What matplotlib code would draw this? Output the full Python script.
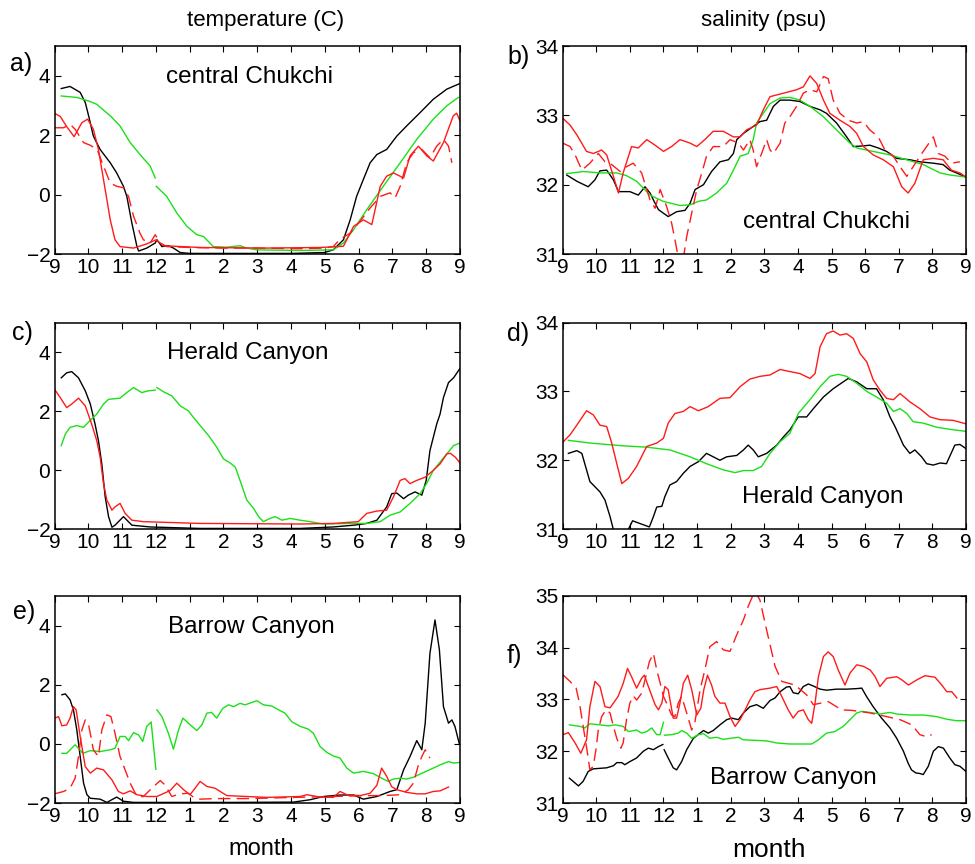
import matplotlib
matplotlib.use("Agg")
import matplotlib.pyplot as plt
import numpy as np

'''
Seasonal cycles of temperature and salinity at three Chukchi Sea sites
'''

plt.rcParams['font.family'] = ['Liberation Sans', 'DejaVu Sans']

nan = np.nan
MONTHS = ['9', '10', '11', '12', '1', '2', '3', '4', '5', '6', '7', '8', '9']

# x in months since 1 Sept
# ---- a) temperature, central Chukchi
a_k_x = [0.2, 0.46, 0.76, 0.91, 1.01, 1.15, 1.35, 1.65, 1.84, 2.04, 2.14, 2.29, 2.44, 2.49, 2.73, 2.98, 3.03, 3.18, 3.37, 3.52, 3.72, 4.01, 5.0, 6.0, 7.0, 7.99, 8.25, 8.55, 8.75, 8.94, 9.14, 9.34, 9.54, 9.83, 10.13, 10.42, 10.82, 11.21, 11.61, 12.0]
a_k_y = [3.57, 3.64, 3.44, 3.1, 2.65, 1.97, 1.52, 1.07, 0.73, 0.28, -0.06, -0.96, -1.75, -1.9, -1.8, -1.63, -1.52, -1.75, -1.72, -1.8, -1.95, -1.98, -1.98, -1.98, -1.98, -1.95, -1.86, -1.52, -0.85, -0.06, 0.51, 1.07, 1.35, 1.52, 1.97, 2.31, 2.76, 3.21, 3.55, 3.74]
a_g_x = [0.2, 0.66, 1.01, 1.25, 1.65, 1.94, 2.24, 2.53, 2.83, 2.98, nan, 3.01, 3.32, 3.62, 3.92, 4.21, 4.41, 4.7, 5.1, 5.49, 5.69, 5.99, 7.27, 8.25, 8.55, 8.85, 9.24, 9.73, 10.23, 10.72, 11.21, 11.61, 11.95]
a_g_y = [3.32, 3.27, 3.15, 3.04, 2.65, 2.31, 1.75, 1.35, 0.96, 0.56, nan, 0.28, -0.06, -0.62, -1.07, -1.35, -1.41, -1.75, -1.77, -1.72, -1.8, -1.86, -1.88, -1.86, -1.63, -1.18, -0.51, 0.28, 1.07, 1.86, 2.54, 2.99, 3.27]
a_r_x = [0, 0.17, 0.36, 0.58, 0.81, 0.98, 1.15, 1.3, 1.45, 1.65, 1.79, 1.94, 2.34, 2.73, 3.01, 3.22, 4.31, 6.28, 7.86, 8.55, 8.85, 9.14, 9.39, 9.64, 9.83, 10.03, 10.33, 10.52, 10.77, 11.02, 11.21, 11.51, 11.8, 11.9, 12.0]
a_r_y = [2.74, 2.63, 2.29, 1.95, 2.42, 2.54, 2.2, 1.52, 0.51, -0.85, -1.52, -1.75, -1.8, -1.66, -1.52, -1.72, -1.78, -1.8, -1.78, -1.74, -1.07, -0.85, -1.01, 0.28, 0.62, 0.73, 0.56, 1.3, 1.63, 1.3, 1.13, 1.75, 2.65, 2.74, 2.48]
a_rd_x = [0, 0.27, 0.46, 0.61, 0.86, 1.06, 1.26, 1.45, 1.65, 1.84, 2.04, 2.19, 2.34, 2.53, 2.63, 2.83, 2.98, 3.13, 3.32, 4.0, 5.0, 6.0, 7.27, 7.99, 8.25, 8.45, 8.75, 9.04, 9.34, 9.64, 9.93, 10.08, 10.23, 10.42, 10.62, 10.87, 11.11, 11.31, 11.51, 11.66, 11.76]
a_rd_y = [2.25, 2.25, 2.37, 2.2, 1.75, 1.66, 1.52, 0.96, 0.39, 0.28, 0.23, -0.06, -0.73, -1.3, -1.52, -1.63, -1.35, -1.63, -1.75, -1.78, -1.8, -1.8, -1.82, -1.8, -1.75, -1.5, -1.3, -0.9, -0.45, -0.06, 0.06, -0.11, 0.28, 1.07, 1.41, 1.52, 1.24, 1.63, 1.86, 1.63, 1.07]

# ---- b) salinity, central Chukchi
b_k_x = [0.12, 0.42, 0.76, 0.96, 1.11, 1.31, 1.51, 1.66, 2.0, 2.25, 2.45, 2.6, 2.7, 2.85, 3.14, 3.39, 3.64, 3.79, 3.94, 4.19, 4.43, 4.68, 4.93, 5.08, 5.18, 5.38, 5.67, 5.87, 6.07, 6.27, 6.47, 6.76, 7.06, 7.36, 7.66, 7.85, 8.15, 8.45, 8.65, 8.95, 9.14, 9.39, 9.64, 9.94, 10.33, 10.63, 11.03, 11.32, 11.52, 11.72, 12.0]
b_k_y = [32.14, 32.05, 31.97, 32.07, 32.2, 32.21, 32.07, 31.9, 31.9, 31.85, 31.97, 31.88, 31.78, 31.64, 31.54, 31.61, 31.63, 31.73, 31.93, 32.0, 32.19, 32.33, 32.36, 32.45, 32.65, 32.74, 32.84, 32.91, 32.93, 33.13, 33.22, 33.22, 33.2, 33.13, 33.08, 33.03, 32.89, 32.69, 32.55, 32.56, 32.57, 32.53, 32.48, 32.38, 32.36, 32.33, 32.31, 32.29, 32.21, 32.17, 32.11]
b_g_x = [0.12, 0.61, 1.11, 1.61, 1.9, 2.2, 2.6, 2.99, 3.49, 3.79, 4.04, 4.28, 4.58, 4.88, 5.08, 5.28, 5.52, 5.67, 5.77, 5.97, 6.17, 6.47, 6.76, 7.06, 7.36, 7.76, 8.15, 8.55, 8.75, 9.24, 9.74, 10.23, 10.73, 11.23, 11.52, 12.0]
b_g_y = [32.16, 32.19, 32.17, 32.17, 32.13, 32.05, 31.85, 31.76, 31.7, 31.71, 31.76, 31.78, 31.88, 32.02, 32.21, 32.41, 32.45, 32.65, 32.89, 33.03, 33.17, 33.25, 33.26, 33.22, 33.13, 32.98, 32.79, 32.6, 32.53, 32.48, 32.43, 32.36, 32.29, 32.17, 32.14, 32.11]
b_r_x = [0, 0.22, 0.42, 0.71, 0.91, 1.16, 1.31, 1.51, 1.66, 1.8, 2.05, 2.25, 2.5, 2.75, 3.0, 3.24, 3.49, 3.79, 3.99, 4.23, 4.48, 4.78, 5.08, 5.28, 5.47, 5.77, 5.97, 6.17, 6.57, 6.96, 7.16, 7.36, 7.56, 7.76, 7.95, 8.25, 8.55, 8.75, 8.95, 9.24, 9.54, 9.84, 10.09, 10.28, 10.48, 10.73, 11.03, 11.32, 11.57, 11.82, 12.0]
b_r_y = [32.96, 32.86, 32.72, 32.48, 32.45, 32.5, 32.43, 32.12, 31.88, 32.17, 32.55, 32.53, 32.65, 32.57, 32.48, 32.55, 32.65, 32.6, 32.55, 32.65, 32.77, 32.77, 32.69, 32.69, 32.79, 32.86, 33.08, 33.27, 33.32, 33.37, 33.41, 33.57, 33.46, 33.22, 33.03, 32.93, 32.84, 32.74, 32.55, 32.43, 32.36, 32.26, 31.97, 31.88, 32.02, 32.36, 32.38, 32.36, 32.21, 32.17, 32.11]
b_rd_x = [0, 0.22, 0.37, 0.57, 0.81, 1.06, 1.26, 1.46, 1.71, 1.9, 2.1, 2.35, 2.5, 2.6, 2.75, 2.85, 2.9, 3.09, 3.24, 3.34, 3.44, 3.55, 3.69, 3.84, 3.99, 4.14, 4.28, 4.48, 4.78, 4.98, 5.23, 5.38, 5.57, 5.67, 5.77, 5.92, 6.07, 6.17, 6.27, 6.47, 6.61, 6.76, 6.96, 7.16, 7.36, 7.56, 7.76, 7.9, 8.05, 8.25, 8.5, 8.75, 8.95, 9.14, 9.39, 9.59, 9.84, 10.04, 10.24, 10.43, 10.63, 10.83, 11.03, 11.18, 11.38, 11.57, 11.82]
b_rd_y = [32.6, 32.55, 32.43, 32.21, 32.31, 32.45, 32.33, 32.29, 32.19, 32.26, 32.31, 32.17, 31.93, 31.78, 31.66, 31.83, 31.93, 31.69, 31.45, 31.21, 30.95, 30.8, 31.25, 31.59, 31.93, 32.17, 32.41, 32.55, 32.55, 32.65, 32.6, 32.5, 32.65, 32.5, 32.26, 32.45, 32.65, 32.5, 32.45, 32.6, 32.89, 32.98, 33.13, 33.32, 33.37, 33.34, 33.56, 33.53, 33.22, 33.03, 32.93, 32.89, 32.91, 32.79, 32.69, 32.5, 32.41, 32.26, 32.12, 32.26, 32.41, 32.55, 32.69, 32.45, 32.41, 32.31, 32.33]

# ---- c) temperature, Herald Canyon
c_k_x = [0.2, 0.36, 0.51, 0.71, 0.91, 1.06, 1.2, 1.3, 1.4, 1.5, 1.6, 1.7, 1.79, 2.04, 2.29, 2.83, 4.31, 7.27, 8.25, 8.85, 9.24, 9.54, 9.83, 9.98, 10.13, 10.33, 10.47, 10.67, 10.87, 11.0, 11.11, 11.21, 11.31, 11.41, 11.51, 11.66, 11.81, 12.0]
c_k_y = [3.13, 3.3, 3.34, 3.13, 2.69, 2.24, 1.56, 1.0, 0.21, -0.91, -1.58, -1.94, -1.87, -1.58, -1.87, -1.93, -1.98, -1.98, -1.93, -1.87, -1.81, -1.7, -1.25, -0.8, -0.78, -0.97, -0.85, -0.74, -0.85, -0.35, 0.66, 1.11, 1.56, 1.9, 2.46, 2.97, 3.13, 3.45]
c_g_x = [0.2, 0.32, 0.46, 0.66, 0.86, 1.0, 1.25, 1.45, 1.6, 1.94, 2.14, 2.34, 2.58, 2.78, 2.98, nan, 3.03, 3.22, 3.47, 3.72, 3.96, 4.11, 4.31, 4.56, 4.8, 5.0, 5.2, 5.35, 5.49, 5.69, 5.89, 6.04, 6.18, 6.38, 6.53, 6.73, 6.97, 7.27, 7.56, 7.96, 8.75, 9.24, 9.64, 9.93, 10.23, 10.52, 10.82, 11.01, 11.21, 11.41, 11.61, 11.81, 12.0]
c_g_y = [0.83, 1.22, 1.45, 1.51, 1.45, 1.62, 1.9, 2.24, 2.4, 2.44, 2.63, 2.8, 2.63, 2.69, 2.71, nan, 2.8, 2.66, 2.52, 2.18, 2.01, 1.79, 1.51, 1.17, 0.78, 0.38, 0.24, 0.1, -0.35, -1.02, -1.3, -1.58, -1.75, -1.64, -1.58, -1.7, -1.64, -1.7, -1.75, -1.83, -1.81, -1.81, -1.75, -1.53, -1.42, -1.13, -0.8, -0.46, -0.01, 0.27, 0.55, 0.83, 0.92]
c_r_x = [0, 0.17, 0.36, 0.51, 0.71, 0.91, 1.1, 1.25, 1.35, 1.45, 1.55, 1.7, 1.79, 1.94, 2.09, 2.29, 2.63, 4.31, 7.27, 8.25, 8.99, 9.24, 9.54, 9.83, 10.03, 10.23, 10.37, 10.52, 10.72, 10.97, 11.21, 11.41, 11.61, 11.71, 11.86, 12.0]
c_r_y = [2.74, 2.46, 2.12, 2.24, 2.44, 2.18, 1.56, 1.0, 0.44, -0.46, -1.02, -1.36, -1.25, -1.13, -1.47, -1.7, -1.75, -1.81, -1.83, -1.81, -1.75, -1.47, -1.39, -1.36, -0.91, -0.35, -0.29, -0.46, -0.35, -0.24, -0.01, 0.21, 0.55, 0.57, 0.44, 0.24]

# ---- d) salinity, Herald Canyon
d_k_x = [0.17, 0.42, 0.57, 0.81, 1.11, 1.26, 1.41, 1.51, 1.7, 1.95, 2.08, 2.3, 2.58, 2.7, 2.8, 2.95, 3.04, 3.19, 3.39, 3.59, 3.79, 4.04, 4.28, 4.48, 4.68, 4.88, 5.18, 5.38, 5.52, 5.67, 5.82, 6.07, 6.37, 6.57, 6.76, 7.01, 7.26, 7.46, 7.76, 8.05, 8.35, 8.5, 8.75, 9.05, 9.34, 9.54, 9.74, 9.89, 10.14, 10.33, 10.48, 10.68, 10.83, 11.03, 11.23, 11.42, 11.67, 11.82, 12.0]
d_k_y = [32.1, 32.14, 32.1, 31.69, 31.54, 31.42, 31.18, 30.99, 30.7, 30.99, 31.12, 31.08, 31.03, 31.18, 31.32, 31.33, 31.47, 31.64, 31.69, 31.81, 31.91, 31.98, 32.1, 32.05, 32.0, 32.05, 32.07, 32.15, 32.22, 32.15, 32.05, 32.1, 32.22, 32.34, 32.44, 32.63, 32.63, 32.75, 32.92, 33.04, 33.14, 33.19, 33.14, 33.04, 33.04, 32.88, 32.63, 32.49, 32.22, 32.1, 32.15, 32.05, 31.95, 31.93, 31.96, 31.95, 32.22, 32.23, 32.17]
d_g_x = [0.17, 0.81, 1.8, 2.5, 3.19, 3.79, 4.28, 4.78, 5.13, 5.38, 5.67, 5.92, 6.17, 6.47, 6.76, 7.01, 7.36, 7.66, 7.95, 8.2, 8.45, 8.75, 9.05, 9.34, 9.64, 9.84, 10.04, 10.24, 10.43, 10.73, 11.13, 11.52, 12.0]
d_g_y = [32.29, 32.25, 32.21, 32.19, 32.15, 32.05, 31.95, 31.86, 31.82, 31.85, 31.85, 31.91, 32.1, 32.27, 32.39, 32.68, 32.88, 33.07, 33.22, 33.25, 33.22, 33.12, 33.0, 32.92, 32.83, 32.71, 32.75, 32.68, 32.56, 32.54, 32.48, 32.45, 32.42]
d_r_x = [0, 0.22, 0.42, 0.71, 0.91, 1.11, 1.31, 1.46, 1.61, 1.76, 1.96, 2.2, 2.5, 2.8, 3.0, 3.14, 3.34, 3.59, 3.79, 4.04, 4.33, 4.68, 4.98, 5.28, 5.57, 5.87, 6.17, 6.47, 6.76, 7.06, 7.36, 7.51, 7.66, 7.85, 8.05, 8.25, 8.45, 8.65, 8.85, 9.05, 9.24, 9.44, 9.64, 9.84, 10.04, 10.33, 10.63, 10.93, 11.23, 11.62, 12.0]
d_r_y = [32.26, 32.37, 32.51, 32.72, 32.66, 32.51, 32.49, 32.25, 31.95, 31.66, 31.74, 31.91, 32.2, 32.25, 32.32, 32.54, 32.68, 32.71, 32.78, 32.72, 32.78, 32.9, 32.91, 33.07, 33.18, 33.22, 33.24, 33.32, 33.29, 33.26, 33.19, 33.26, 33.65, 33.84, 33.88, 33.82, 33.84, 33.77, 33.55, 33.43, 33.17, 33.02, 32.9, 32.88, 32.97, 32.85, 32.75, 32.63, 32.59, 32.58, 32.53]

# ---- e) temperature, Barrow Canyon
e_k_x = [0.22, 0.32, 0.46, 0.56, 0.66, 0.76, 0.86, 0.96, 1.06, 1.35, 1.55, 1.84, 2.04, 2.34, 3.32, 5.3, 7.07, 7.56, 7.96, 8.45, 8.85, 9.14, 9.54, 9.93, 10.13, 10.33, 10.52, 10.72, 10.87, 10.97, 11.11, 11.26, 11.39, 11.51, 11.66, 11.76, 11.85, 11.98]
e_k_y = [1.66, 1.69, 1.49, 1.15, 0.47, -0.43, -1.33, -1.72, -1.84, -1.87, -1.98, -1.8, -1.94, -1.98, -1.98, -1.98, -1.97, -1.89, -1.78, -1.73, -1.73, -1.87, -1.78, -1.61, -1.55, -0.88, -0.43, 0.11, -0.2, 0.7, 3.06, 4.19, 3.18, 1.26, 0.7, 0.81, 0.59, 0.0]
e_g_x = [0.22, 0.36, 0.61, 0.84, 1.06, 1.35, 1.65, 1.79, 1.94, 2.09, 2.19, 2.34, 2.49, 2.61, 2.73, 2.86, 3.0, nan, 3.03, 3.18, 3.37, 3.52, 3.67, 3.8, 3.96, 4.21, 4.36, 4.51, 4.65, 4.8, 4.98, 5.15, 5.3, 5.49, 5.64, 5.84, 5.99, 6.18, 6.43, 6.63, 6.82, 7.02, 7.27, 7.51, 7.66, 7.86, 8.06, 8.25, 8.45, 8.65, 8.85, 9.14, 9.44, 9.73, 9.88, 10.03, 10.23, 10.42, 10.62, 10.92, 11.21, 11.41, 11.66, 11.81, 11.98]
e_g_y = [-0.32, -0.32, -0.03, -0.32, -0.23, -0.26, -0.2, -0.15, 0.25, 0.25, 0.11, 0.38, 0.3, 0.08, 0.59, 0.74, -0.86, nan, 1.15, 0.92, 0.36, -0.18, 0.47, 0.87, 0.7, 0.45, 0.64, 1.04, 1.06, 0.87, 1.2, 1.32, 1.26, 1.37, 1.32, 1.4, 1.46, 1.32, 1.28, 1.15, 1.04, 0.75, 0.59, 0.5, 0.36, -0.09, -0.29, -0.41, -0.48, -0.82, -0.99, -0.93, -1.01, -1.19, -1.27, -1.19, -1.16, -1.19, -1.13, -0.97, -0.82, -0.71, -0.6, -0.65, -0.63]
e_r_x = [0, 0.12, 0.22, 0.36, 0.46, 0.56, 0.64, 0.76, 0.91, 1.06, 1.25, 1.45, 1.7, 1.89, 2.04, 2.24, 2.44, 2.73, 3.03, 3.42, 3.62, 3.82, 4.01, 4.16, 4.31, 4.51, 4.75, 5.1, 6.28, 7.27, 7.47, 7.86, 8.25, 8.45, 8.65, 9.04, 9.34, 9.54, 9.68, 9.83, 9.98, 10.13, 10.42, 10.72, 10.97, 11.21, 11.41, 11.66]
e_r_y = [0.87, 0.92, 0.61, 0.64, 0.87, 1.26, 1.15, 0.25, -0.77, -0.99, -0.82, -0.88, -1.22, -1.61, -1.69, -1.59, -1.72, -1.78, -1.78, -1.58, -1.33, -1.55, -1.72, -1.5, -1.27, -1.44, -1.5, -1.75, -1.81, -1.78, -1.72, -1.8, -1.81, -1.61, -1.72, -1.75, -1.67, -1.4, -0.82, -1.1, -1.45, -1.55, -1.64, -1.69, -1.69, -1.61, -1.59, -1.46]
e_rd_x = [0, 0.27, 0.46, 0.61, 0.71, 0.81, 0.91, 1.01, 1.15, 1.3, 1.4, 1.55, 1.67, 1.79, 1.94, 2.09, 2.24, 2.44, 2.63, 2.88, 3.13, 3.27, 3.47, 3.72, 3.96, 4.11, 4.31, 4.8, 5.79, 6.78, 7.47, 8.25, 9.24, 9.73, 10.23, 10.47, 10.62, 10.77, 10.87, 10.97, 11.11]
e_rd_y = [-1.69, -1.61, -1.5, -1.16, -0.43, 0.47, 0.81, 0.64, -0.2, -0.43, 0.47, 0.98, 0.92, 0.36, -0.43, -0.88, -1.33, -1.78, -1.78, -1.5, -1.24, -1.39, -1.78, -1.69, -1.67, -1.8, -1.87, -1.85, -1.85, -1.82, -1.8, -1.78, -1.75, -1.75, -1.72, -1.55, -1.33, -0.71, -0.43, -0.2, -0.48]

# ---- f) salinity, Barrow Canyon
f_k_x = [0.2, 0.47, 0.61, 0.76, 0.91, 1.31, 1.51, 1.61, 1.76, 1.85, 2.0, 2.2, 2.4, 2.55, 2.7, 2.85, 2.98, nan, 3.02, 3.14, 3.29, 3.39, 3.54, 3.69, 3.89, 4.09, 4.19, 4.33, 4.48, 4.68, 4.88, 5.03, 5.23, 5.38, 5.57, 5.77, 5.97, 6.17, 6.32, 6.47, 6.66, 6.76, 6.86, 7.01, 7.16, 7.31, 7.46, 7.66, 7.85, 8.15, 8.45, 8.75, 8.9, 9.04, 9.24, 9.49, 9.74, 9.94, 10.14, 10.28, 10.38, 10.51, 10.63, 10.73, 10.88, 11.03, 11.18, 11.33, 11.52, 11.67, 11.82, 12.0]
f_k_y = [31.48, 31.33, 31.42, 31.61, 31.66, 31.68, 31.72, 31.78, 31.78, 31.74, 31.8, 31.87, 32.0, 32.06, 32.03, 32.09, 32.13, nan, 32.03, 31.87, 31.68, 31.64, 31.8, 32.03, 32.25, 32.35, 32.4, 32.35, 32.4, 32.51, 32.61, 32.64, 32.61, 32.74, 32.86, 32.9, 32.83, 32.98, 33.03, 33.15, 33.24, 33.25, 33.13, 33.11, 33.25, 33.3, 33.26, 33.2, 33.18, 33.2, 33.2, 33.21, 33.22, 33.06, 32.86, 32.64, 32.45, 32.25, 32.0, 31.77, 31.64, 31.58, 31.57, 31.55, 31.71, 32.0, 32.09, 32.06, 31.87, 31.74, 31.71, 31.61]
f_g_x = [0.2, 0.52, 0.66, 0.81, 1.11, 1.36, 1.56, 1.8, 1.96, 2.2, 2.35, 2.5, 2.65, 2.8, 2.9, 3.0, nan, 3.03, 3.24, 3.44, 3.54, 3.69, 3.84, 4.04, 4.19, 4.38, 4.58, 4.78, 4.98, 5.23, 5.38, 5.77, 6.07, 6.37, 6.76, 7.41, 7.61, 7.85, 8.1, 8.35, 8.55, 8.75, 8.9, 9.14, 9.44, 9.74, 9.94, 10.33, 10.73, 11.12, 11.42, 11.72, 12.0]
f_g_y = [32.51, 32.48, 32.45, 32.53, 32.51, 32.49, 32.51, 32.48, 32.38, 32.41, 32.35, 32.38, 32.45, 32.32, 32.32, 32.56, nan, 32.31, 32.32, 32.35, 32.4, 32.35, 32.25, 32.32, 32.34, 32.25, 32.27, 32.23, 32.25, 32.27, 32.22, 32.21, 32.2, 32.16, 32.14, 32.14, 32.22, 32.35, 32.38, 32.48, 32.61, 32.74, 32.77, 32.75, 32.72, 32.75, 32.72, 32.7, 32.7, 32.67, 32.62, 32.59, 32.59]
f_r_x = [0.01, 0.17, 0.37, 0.54, 0.71, 0.81, 0.96, 1.11, 1.26, 1.41, 1.51, 1.65, 1.8, 1.93, 2.05, 2.2, 2.35, 2.43, 2.55, 2.75, 2.85, 2.95, 3.04, 3.14, 3.29, 3.39, 3.49, 3.59, 3.72, 3.84, 3.99, 4.11, 4.2, 4.31, 4.43, 4.53, 4.68, 4.83, 4.98, 5.13, 5.28, 5.43, 5.58, 5.72, 5.87, 6.17, 6.37, 6.52, 6.71, 6.86, 7.01, 7.16, 7.31, 7.41, 7.51, 7.61, 7.76, 7.9, 8.05, 8.2, 8.4, 8.55, 8.75, 8.95, 9.15, 9.3, 9.44, 9.64, 9.94, 10.09, 10.29, 10.54, 10.78, 11.08, 11.28, 11.43, 11.58, 11.73]
f_r_y = [32.32, 32.36, 32.16, 31.96, 32.22, 32.86, 33.35, 33.25, 32.86, 32.84, 32.93, 33.06, 33.31, 33.6, 33.44, 33.22, 33.41, 33.47, 33.25, 32.9, 32.8, 32.93, 33.25, 33.19, 32.64, 32.64, 32.93, 33.31, 33.47, 33.19, 32.7, 32.83, 33.19, 33.47, 33.28, 33.06, 32.93, 32.93, 32.67, 32.48, 32.61, 32.8, 33.0, 33.15, 33.19, 33.22, 33.25, 33.06, 32.8, 32.64, 32.77, 32.8, 32.61, 32.54, 32.93, 33.44, 33.83, 33.92, 33.83, 33.57, 33.28, 33.51, 33.67, 33.64, 33.57, 33.44, 33.25, 33.41, 33.44, 33.38, 33.28, 33.38, 33.46, 33.43, 33.28, 33.15, 33.15, 33.03]
f_rd_x = [0, 0.22, 0.4, 0.5, 0.61, 0.73, 0.81, 0.91, 0.99, 1.06, 1.16, 1.29, 1.41, 1.51, 1.61, 1.73, 1.8, 1.9, 2.0, 2.1, 2.2, 2.35, 2.45, 2.58, 2.7, 2.8, 2.9, 3.0, 3.14, 3.24, 3.34, 3.44, 3.54, 3.69, 3.84, 3.94, 4.09, 4.23, 4.38, 4.58, 4.78, 4.98, 5.18, 5.38, 5.52, 5.72, 5.87, 6.07, 6.32, 6.52, 6.91, 7.26, 7.46, 7.9, 8.3, 8.6, 9.15, 9.64, 10.04, 10.39, 10.63, 10.83, 10.98]
f_rd_y = [33.48, 33.35, 33.22, 32.93, 32.48, 32.0, 31.64, 31.71, 32.03, 32.41, 32.67, 32.8, 32.74, 32.48, 32.25, 32.06, 32.16, 32.61, 32.93, 33.07, 32.99, 33.12, 33.38, 33.73, 33.89, 33.57, 33.32, 33.06, 32.86, 32.7, 32.67, 32.93, 33.06, 32.74, 32.41, 32.58, 33.19, 33.57, 34.02, 34.12, 33.96, 33.93, 34.25, 34.54, 34.8, 35.1, 34.92, 34.34, 33.64, 33.35, 33.28, 33.09, 32.9, 32.96, 32.8, 32.79, 32.74, 32.67, 32.61, 32.51, 32.32, 32.28, 32.32]

GREEN = '#19e019'
RED = '#ff1a1a'

LEFT_X, LEFT_W = 0.0559, 0.4159
RIGHT_X, RIGHT_W = 0.5771, 0.4136
ROWS = [(0.706, 0.2407), (0.3877, 0.2388), (0.0706, 0.2396)]


def setup_axes(fig, rect, ylim, yticks):
    '''
    MATLAB style box with inward ticks on all sides
    '''
    ax = fig.add_axes(rect)
    ax.set_xlim(0, 12)
    ax.set_ylim(*ylim)
    ax.set_xticks(range(13))
    ax.set_xticklabels(MONTHS)
    ax.set_yticks(yticks)
    ax.tick_params(direction='in', top=True, right=True, length=4,
                   width=0.8, labelsize=15, pad=3)
    for s in ax.spines.values():
        s.set_linewidth(1.1)
    return ax


def draw(ax, x, y, color, dashed=False):
    if dashed:
        ax.plot(x, y, color=color, lw=1.0, dashes=(9, 4.5))
    else:
        ax.plot(x, y, color=color, lw=1.0)


fig = plt.figure(figsize=(9.75, 8.64), dpi=100)

temp_ticks = [-2, 0, 2, 4]
LOC_FS = 17.5

ax = setup_axes(fig, [LEFT_X, ROWS[0][0], LEFT_W, ROWS[0][1]], (-2, 5), temp_ticks)
draw(ax, a_k_x, a_k_y, 'black')
draw(ax, a_g_x, a_g_y, GREEN)
draw(ax, a_r_x, a_r_y, RED)
draw(ax, a_rd_x, a_rd_y, RED, dashed=True)
ax.text(0.482, 0.851, 'central Chukchi', transform=ax.transAxes, ha='center', va='center', fontsize=LOC_FS)

ax = setup_axes(fig, [RIGHT_X, ROWS[0][0], RIGHT_W, ROWS[0][1]], (31, 34), [31, 32, 33, 34])
draw(ax, b_k_x, b_k_y, 'black')
draw(ax, b_g_x, b_g_y, GREEN)
draw(ax, b_r_x, b_r_y, RED)
draw(ax, b_rd_x, b_rd_y, RED, dashed=True)
ax.text(0.653, 0.154, 'central Chukchi', transform=ax.transAxes, ha='center', va='center', fontsize=LOC_FS)

ax = setup_axes(fig, [LEFT_X, ROWS[1][0], LEFT_W, ROWS[1][1]], (-2, 5), temp_ticks)
draw(ax, c_k_x, c_k_y, 'black')
draw(ax, c_g_x, c_g_y, GREEN)
draw(ax, c_r_x, c_r_y, RED)
ax.text(0.477, 0.855, 'Herald Canyon', transform=ax.transAxes, ha='center', va='center', fontsize=LOC_FS)

ax = setup_axes(fig, [RIGHT_X, ROWS[1][0], RIGHT_W, ROWS[1][1]], (31, 34), [31, 32, 33, 34])
draw(ax, d_k_x, d_k_y, 'black')
draw(ax, d_g_x, d_g_y, GREEN)
draw(ax, d_r_x, d_r_y, RED)
ax.text(0.645, 0.157, 'Herald Canyon', transform=ax.transAxes, ha='center', va='center', fontsize=LOC_FS)

ax = setup_axes(fig, [LEFT_X, ROWS[2][0], LEFT_W, ROWS[2][1]], (-2, 5), temp_ticks)
draw(ax, e_k_x, e_k_y, 'black')
draw(ax, e_g_x, e_g_y, GREEN)
draw(ax, e_r_x, e_r_y, RED)
draw(ax, e_rd_x, e_rd_y, RED, dashed=True)
ax.text(0.486, 0.852, 'Barrow Canyon', transform=ax.transAxes, ha='center', va='center', fontsize=LOC_FS)

ax = setup_axes(fig, [RIGHT_X, ROWS[2][0], RIGHT_W, ROWS[2][1]], (31, 35), [31, 32, 33, 34, 35])
draw(ax, f_k_x, f_k_y, 'black')
draw(ax, f_g_x, f_g_y, GREEN)
draw(ax, f_r_x, f_r_y, RED)
draw(ax, f_rd_x, f_rd_y, RED, dashed=True)
ax.text(0.572, 0.121, 'Barrow Canyon', transform=ax.transAxes, ha='center', va='center', fontsize=LOC_FS)

# x labels placed under each bottom panel
fig.text(0.268, 0.017, 'month', ha='center', va='center', fontsize=17)
fig.text(0.789, 0.016, 'month', ha='center', va='center', fontsize=19)

# column titles and panel letters
fig.text(0.272, 0.976, 'temperature (C)', ha='center', va='center', fontsize=16)
fig.text(0.783, 0.976, 'salinity (psu)', ha='center', va='center', fontsize=16)
for lab, x, y in [('a)', 0.010, 0.926), ('b)', 0.520, 0.934), ('c)', 0.012, 0.615),
                  ('d)', 0.520, 0.613), ('e)', 0.013, 0.292), ('f)', 0.520, 0.241)]:
    fig.text(x, y, lab, ha='left', va='center', fontsize=18)

fig.savefig('out.png', dpi=100)
